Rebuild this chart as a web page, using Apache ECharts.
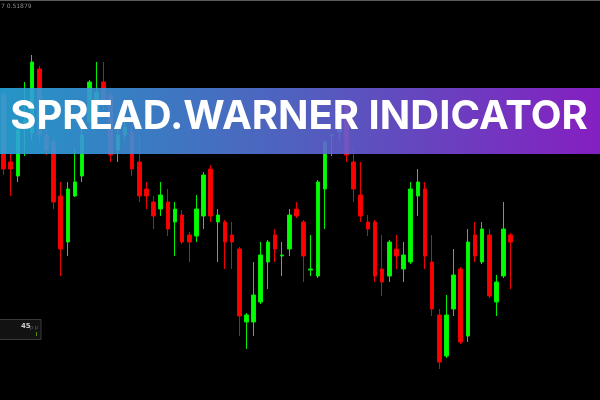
<!DOCTYPE html>
<html><head><meta charset="utf-8">
<script src="https://cdn.jsdelivr.net/npm/echarts@6/dist/echarts.min.js"></script>
<style>html,body{margin:0;padding:0;background:#000}#c{width:600px;height:400px}</style>
</head><body><div id="c"></div>
<script>
// price values per bar
var opens  = [0.51810,0.51676,0.51648,0.51752,0.51734,0.51862,0.51730,0.51716,0.51608,0.51516,0.51608,0.51648,0.51756,0.51770,0.51836,0.51810,0.51700,0.51730,0.51736,0.51676,0.51622,0.51596,0.51582,0.51596,0.51556,0.51570,0.51530,0.51528,0.51568,0.51662,0.51556,0.51556,0.51530,0.51502,0.51356,0.51356,0.51396,0.51476,0.51530,0.51488,0.51502,0.51582,0.51556,0.51460,0.51448,0.51622,0.51728,0.51736,0.51796,0.51676,0.51610,0.51556,0.51556,0.51462,0.51448,0.51502,0.51462,0.51476,0.51608,0.51622,0.51476,0.51370,0.51288,0.51382,0.51462,0.51328,0.51530,0.51476,0.51530,0.51396,0.51448,0.51530];
var closes = [0.51662,0.51662,0.51740,0.51760,0.51876,0.51730,0.51700,0.51596,0.51502,0.51622,0.51636,0.51730,0.51836,0.51816,0.51800,0.51690,0.51730,0.51746,0.51662,0.51608,0.51608,0.51568,0.51610,0.51542,0.51582,0.51516,0.51516,0.51582,0.51650,0.51568,0.51570,0.51516,0.51516,0.51368,0.51370,0.51410,0.51490,0.51516,0.51502,0.51490,0.51570,0.51568,0.51488,0.51462,0.51636,0.51716,0.51730,0.51792,0.51690,0.51622,0.51568,0.51542,0.51448,0.51436,0.51516,0.51488,0.51490,0.51622,0.51636,0.51488,0.51382,0.51276,0.51370,0.51450,0.51316,0.51516,0.51488,0.51542,0.51408,0.51436,0.51542,0.51516];
var lows   = [0.51650,0.51608,0.51636,0.51688,0.51720,0.51716,0.51690,0.51582,0.51448,0.51488,0.51606,0.51636,0.51744,0.51760,0.51780,0.51676,0.51676,0.51720,0.51648,0.51596,0.51582,0.51542,0.51568,0.51528,0.51488,0.51512,0.51476,0.51516,0.51542,0.51556,0.51476,0.51462,0.51462,0.51328,0.51302,0.51328,0.51392,0.51422,0.51476,0.51448,0.51488,0.51564,0.51436,0.51448,0.51444,0.51542,0.51688,0.51720,0.51676,0.51596,0.51556,0.51528,0.51436,0.51408,0.51436,0.51462,0.51436,0.51472,0.51568,0.51462,0.51368,0.51262,0.51284,0.51368,0.51312,0.51316,0.51476,0.51472,0.51404,0.51368,0.51444,0.51422];
var highs  = [0.51816,0.51700,0.51750,0.51836,0.51890,0.51868,0.51740,0.51724,0.51636,0.51636,0.51704,0.51744,0.51840,0.51876,0.51876,0.51816,0.51740,0.51756,0.51744,0.51730,0.51636,0.51608,0.51636,0.51622,0.51596,0.51580,0.51536,0.51610,0.51656,0.51670,0.51582,0.51560,0.51556,0.51506,0.51374,0.51476,0.51516,0.51520,0.51542,0.51516,0.51582,0.51596,0.51560,0.51530,0.51640,0.51720,0.51734,0.51800,0.51800,0.51706,0.51676,0.51570,0.51560,0.51530,0.51520,0.51530,0.51516,0.51636,0.51662,0.51636,0.51530,0.51382,0.51410,0.51502,0.51466,0.51542,0.51556,0.51556,0.51542,0.51450,0.51596,0.51534];
var emptyBars = 12;
var titleText = 'SPREAD.WARNER INDICATOR';
var topInfo = '7 0.51879';
var spreadValue = '45';

var categories = [];
var ohlc = [];
for (var i = 0; i < opens.length + emptyBars; i++) {
  categories.push(String(i + 1));
  if (i < opens.length) ohlc.push([opens[i], closes[i], lows[i], highs[i]]);
  else ohlc.push('-');
}

var chart = echarts.init(document.getElementById('c'), null, {renderer: 'canvas'});
chart.setOption({
  backgroundColor: '#000000',
  animation: false,
  grid: {left: -4.35, top: 0, width: 607.32, height: 400},
  xAxis: {type: 'category', data: categories, boundaryGap: true, show: false},
  yAxis: {type: 'value', min: 0.512, max: 0.520, show: false, splitLine: {show: false}},
  series: [{
    type: 'candlestick',
    data: ohlc,
    barWidth: 4,
    itemStyle: {color: '#00ff00', color0: '#ff0000', borderColor: '#00ee00', borderColor0: '#ee0000', borderWidth: 1}
  }],
  graphic: [
    {type: 'line', shape: {x1: 0, y1: 0.5, x2: 600, y2: 0.5}, style: {stroke: '#5a5a5a', lineWidth: 1}, z: 50},
    {type: 'text', left: 1, top: 3, style: {text: topInfo, fill: '#8a8a8a', font: '6px "DejaVu Sans"'}, z: 50},
    {type: 'rect', shape: {x: -1, y: 319.5, width: 42, height: 20}, style: {fill: '#121212', stroke: '#3a3a3a', lineWidth: 1}, z: 50},
    {type: 'text', x: 21, y: 323, style: {text: spreadValue, fill: '#cfcfcf', font: 'bold 7px "DejaVu Sans"'}, z: 51},
    {type: 'text', x: 30, y: 325, style: {text: 'p p', fill: '#6a6a6a', font: '5px "DejaVu Sans"'}, z: 51},
    {type: 'rect', shape: {x: 36, y: 332, width: 1, height: 4}, style: {fill: '#5a8a10'}, z: 51},
    {type: 'rect', shape: {x: 0, y: 88, width: 600, height: 66},
      style: {fill: new echarts.graphic.LinearGradient(0, 0, 1, 0, [
        {offset: 0, color: '#29a6dd'}, {offset: 0.5, color: '#5a6ad3'}, {offset: 1, color: '#9422d6'}]), opacity: 0.9}, z: 100},
    {type: 'text', x: 299, y: 117, style: {text: titleText, fill: '#ffffff', font: 'bold 40px Inter', textAlign: 'center', textVerticalAlign: 'middle'}, z: 101}
  ]
});
</script></body></html>
